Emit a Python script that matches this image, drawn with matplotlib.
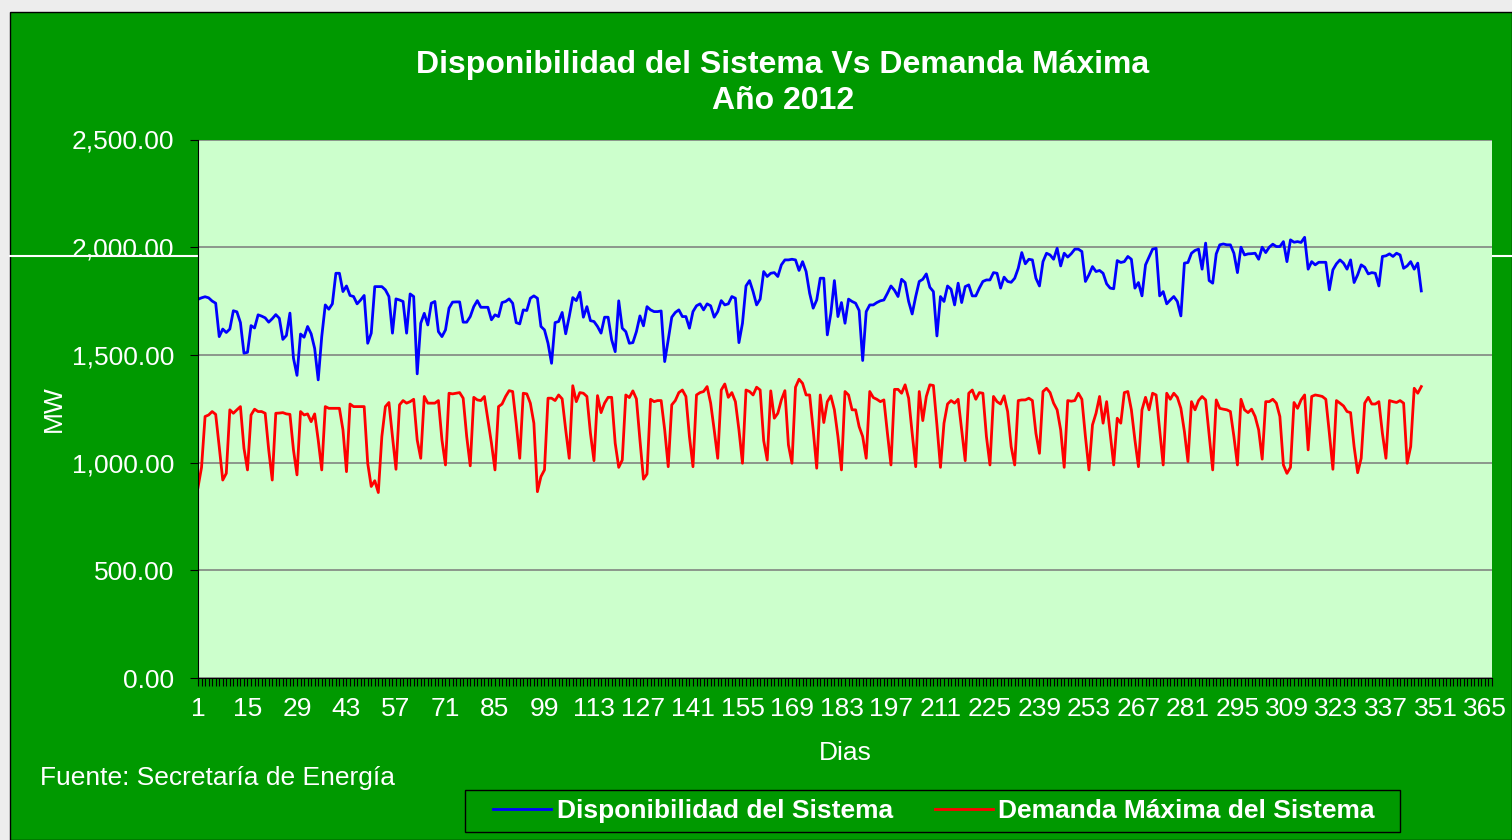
import matplotlib
matplotlib.use("Agg")
import matplotlib.pyplot as plt
import numpy as np
from matplotlib.patches import Rectangle
from matplotlib.lines import Line2D
from matplotlib.ticker import FixedLocator, MultipleLocator, FuncFormatter

# Disponibilidad del Sistema (MW), dia 1 .. 347
disp_ene_feb = [1758, 1765, 1770, 1765, 1750, 1740, 1585, 1620, 1604, 1620, 1705, 1700, 1650,
                1508, 1512, 1636, 1625, 1686, 1680, 1672, 1652, 1668, 1687, 1670, 1572, 1590,
                1694, 1485, 1405, 1597, 1582, 1632, 1598, 1530, 1384, 1585, 1732, 1712, 1737,
                1879, 1879, 1794, 1820, 1776, 1771, 1737, 1755, 1776, 1554, 1601, 1817]
disp_feb_abr = [1817, 1817, 1802, 1771, 1601, 1760, 1755, 1748, 1601, 1783, 1771, 1412, 1647,
                1693, 1639, 1740, 1748, 1608, 1585, 1616, 1717, 1745, 1746, 1746, 1652, 1652,
                1678, 1724, 1752, 1721, 1721, 1721, 1663, 1686, 1678, 1743, 1748, 1760, 1740,
                1650, 1644, 1709, 1706, 1763, 1774, 1763, 1632, 1616, 1554]
disp_abr_may = [1461, 1650, 1655, 1697, 1598, 1678, 1766, 1752, 1791, 1675, 1724, 1659, 1655,
                1632, 1601, 1675, 1675, 1570, 1515, 1751, 1624, 1608, 1554, 1557, 1608, 1681,
                1635, 1724, 1709, 1701, 1701, 1704, 1469, 1570, 1675, 1697, 1709, 1678, 1678,
                1624, 1701, 1728, 1737, 1709, 1737, 1728, 1675, 1701, 1752]
disp_may_jul = [1732, 1737, 1771, 1763, 1557, 1647, 1820, 1845, 1794, 1732, 1759, 1887, 1864,
                1879, 1882, 1864, 1918, 1941, 1941, 1944, 1941, 1892, 1933, 1887, 1786, 1717,
                1755, 1856, 1856, 1593, 1693, 1845, 1678, 1743, 1647, 1759, 1748, 1740, 1706,
                1474, 1701, 1732, 1732, 1743, 1751, 1755, 1786, 1820, 1800, 1771]
disp_jul_sep = [1851, 1836, 1748, 1690, 1771, 1841, 1851, 1876, 1814, 1794, 1588, 1771, 1748,
                1820, 1805, 1732, 1833, 1743, 1817, 1825, 1774, 1774, 1810, 1841, 1848, 1848,
                1882, 1879, 1810, 1861, 1841, 1837, 1856, 1902, 1975, 1923, 1944, 1941, 1856,
                1820, 1933, 1972, 1964, 1944, 1995, 1913, 1972, 1954, 1970]
disp_sep_oct = [1991, 1991, 1980, 1841, 1872, 1910, 1887, 1892, 1879, 1830, 1810, 1807, 1938,
                1929, 1933, 1957, 1944, 1810, 1836, 1774, 1918, 1954, 1991, 1995, 1774, 1794,
                1737, 1755, 1771, 1748, 1681, 1926, 1929, 1972, 1985, 1991, 1898, 2019, 1845,
                1833, 1969, 2011, 2015, 2011, 2011, 1972, 1882, 2000, 1964, 1969]
disp_oct_dic = [1970, 1972, 1944, 2000, 1975, 2000, 2014, 2003, 2003, 2026, 1933, 2034, 2023,
                2026, 2022, 2046, 1898, 1933, 1918, 1930, 1930, 1930, 1802, 1895, 1923, 1941,
                1926, 1898, 1941, 1836, 1872, 1918, 1907, 1876, 1882, 1879, 1820, 1957, 1960,
                1969, 1957, 1972, 1964, 1902, 1913, 1933, 1898, 1926, 1797]

# Demanda Maxima del Sistema (MW), dia 1 .. 347
dem_ene_abr = [885, 978, 1214, 1221, 1237, 1224, 1074, 919, 950, 1245, 1229, 1245, 1260, 1067,
               966, 1221, 1248, 1237, 1237, 1229, 1059, 919, 1229, 1230, 1232, 1226, 1224, 1059,
               943, 1237, 1221, 1226, 1190, 1226, 1105, 966, 1260, 1252, 1252, 1252, 1252, 1152,
               958, 1272, 1260, 1260, 1260, 1260, 997, 889, 916, 861, 1121, 1260, 1279, 1121,
               969, 1268, 1288, 1276, 1283, 1294, 1105, 1020, 1307, 1276, 1276, 1276, 1288, 1105,
               989, 1322, 1319, 1322, 1325, 1299, 1121, 985, 1303, 1291, 1288, 1307, 1198, 1090,
               966, 1260, 1272, 1307, 1334, 1330, 1183, 1020, 1322, 1319, 1276, 1183, 865, 935,
               966, 1299]
dem_abr_may = [1299, 1288, 1314, 1296, 1152, 1020, 1357, 1283, 1325, 1322, 1307, 1136, 1009,
               1311, 1232, 1276, 1303, 1303, 1090, 978, 1012, 1314, 1302, 1333, 1296, 1105, 923,
               947, 1294, 1283, 1288, 1288, 1152, 981, 1268, 1288, 1325, 1337, 1307, 1121, 981,
               1314, 1325, 1330, 1353, 1276, 1152, 1020, 1337]
dem_may_jul = [1365, 1303, 1325, 1283, 1152, 997, 1337, 1330, 1314, 1350, 1337, 1102, 1012,
               1333, 1206, 1229, 1291, 1334, 1082, 997, 1350, 1387, 1368, 1314, 1314, 1152, 974,
               1314, 1186, 1283, 1310, 1245, 1121, 966, 1330, 1314, 1245, 1245, 1167, 1121, 1020,
               1330, 1302, 1294, 1283, 1291, 1136, 989, 1340, 1340]
dem_jul_sep = [1322, 1361, 1299, 1136, 981, 1330, 1195, 1307, 1361, 1358, 1175, 978, 1183,
               1272, 1288, 1276, 1294, 1152, 1009, 1322, 1337, 1294, 1325, 1322, 1121, 989, 1307,
               1283, 1272, 1310, 1237, 1074, 989, 1288, 1291, 1291, 1299, 1288, 1136, 1043, 1330,
               1345, 1325, 1276, 1245, 1152, 978, 1288, 1285]
dem_sep_oct = [1288, 1322, 1294, 1121, 966, 1175, 1229, 1307, 1183, 1283, 1136, 989, 1206,
               1183, 1325, 1330, 1245, 1105, 981, 1245, 1303, 1245, 1322, 1314, 1152, 989, 1322,
               1294, 1322, 1303, 1252, 1144, 1005, 1283, 1245, 1288, 1307, 1291, 1128, 966, 1291,
               1252, 1248, 1245, 1237, 1121, 989, 1294, 1245, 1232]
dem_oct_dic = [1248, 1214, 1152, 1016, 1283, 1283, 1294, 1276, 1214, 989, 950, 978, 1279, 1252,
               1291, 1314, 1059, 1307, 1314, 1311, 1307, 1294, 1136, 969, 1288, 1276, 1263, 1237,
               1232, 1074, 953, 1020, 1276, 1303, 1272, 1272, 1283, 1136, 1020, 1288, 1283, 1279,
               1288, 1276, 997, 1074, 1345, 1322, 1353]

disponibilidad = (disp_ene_feb + disp_feb_abr + disp_abr_may + disp_may_jul
                  + disp_jul_sep + disp_sep_oct + disp_oct_dic)
demanda = (dem_ene_abr + dem_abr_may + dem_may_jul + dem_jul_sep + dem_sep_oct + dem_oct_dic)

dias_disp = np.arange(1, len(disponibilidad) + 1)
dias_dem = np.arange(1, len(demanda) + 1)
etiquetas_x = np.arange(1, 366, 14)
valores_y = [0, 500, 1000, 1500, 2000, 2500]

verde = "#009900"
verde_claro = "#CCFFCC"

plt.rcParams["font.family"] = ["Liberation Sans", "DejaVu Sans"]

fig = plt.figure(figsize=(15.12, 8.4), dpi=100, facecolor="#EDEDED")
W, H = 1512.0, 840.0

# fondo verde del grafico y la linea blanca suelta
fig.add_artist(Rectangle((10 / W, 0), 1 - 10 / W, 1 - 12 / H, transform=fig.transFigure,
                         facecolor=verde, edgecolor="black", linewidth=1, zorder=-2))
fig.add_artist(Line2D([10 / W, 1], [1 - 256 / H] * 2, transform=fig.transFigure,
                      color="white", linewidth=1.5, zorder=-1))

ax = fig.add_axes([198 / W, 1 - 678 / H, (1492 - 198) / W, (678 - 139.5) / H])
ax.set_facecolor(verde_claro)

ax.plot(dias_disp, disponibilidad, color="#0000FF", linewidth=2, label="Disponibilidad del Sistema")
ax.plot(dias_dem, demanda, color="#FF0000", linewidth=2, label="Demanda Máxima del Sistema")

ax.set_xlim(1, 367)
ax.set_ylim(0, 2500)
ax.xaxis.set_major_locator(FixedLocator(etiquetas_x))
ax.xaxis.set_minor_locator(MultipleLocator(1))
ax.yaxis.set_major_locator(FixedLocator(valores_y))
ax.yaxis.set_major_formatter(FuncFormatter(lambda v, p: f"{v:,.2f}"))

ax.grid(axis="y", color="#7A7A7A", linewidth=1.1)
ax.set_axisbelow(True)
for lado in ["top", "right"]:
    ax.spines[lado].set_visible(False)
ax.spines["left"].set_color("black")
ax.spines["bottom"].set_color("black")

ax.tick_params(axis="x", which="both", direction="out", length=6, width=0.8, color="black",
               labelsize=19, labelcolor="white", pad=8)
ax.tick_params(axis="y", direction="out", length=6, width=0.8, color="black",
               labelsize=19, labelcolor="white", pad=11)

ax.set_xlabel("Dias", fontsize=19, color="white", labelpad=14)
ax.set_ylabel("MW", fontsize=19, color="white", labelpad=4)

fig.text(783 / W, 1 - 83 / H, "Disponibilidad del Sistema Vs Demanda Máxima\nAño 2012",
         ha="center", va="center", fontsize=23, fontweight="bold", color="white",
         linespacing=1.25)
fig.text(40 / W, 1 - 778 / H, "Fuente: Secretaría de Energía", ha="left", va="center",
         fontsize=19, color="white")

# marco de la leyenda
fig.add_artist(Rectangle((465 / W, 1 - 832 / H), (1400 - 465) / W, 42 / H,
                         transform=fig.transFigure, facecolor=verde, edgecolor="black",
                         linewidth=1, zorder=1))
leg = fig.legend(loc="center", bbox_to_anchor=(934 / W, 1 - 811 / H), ncol=2,
                 frameon=False, handlelength=2.2, handletextpad=0.2, columnspacing=1.6,
                 borderpad=0.35, prop={"size": 19, "weight": "bold"})
leg.set_zorder(2)
for t in leg.get_texts():
    t.set_color("white")

fig.savefig("out.png", dpi=100, facecolor=fig.get_facecolor())
